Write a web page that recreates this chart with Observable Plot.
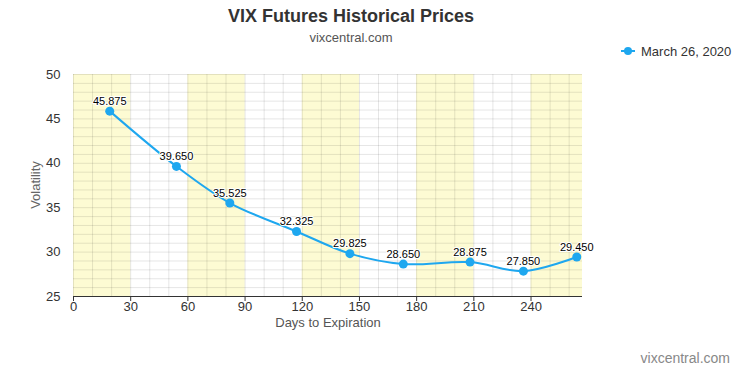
<!DOCTYPE html>
<html>
<head>
<meta charset="utf-8">
<script src="https://cdn.jsdelivr.net/npm/d3@7"></script>
<script src="https://cdn.jsdelivr.net/npm/@observablehq/plot@0.6"></script>
<style>
  body { margin:0; background:#fff; font-family:"Liberation Sans", Arial, Helvetica, sans-serif; }
  #wrap { position:relative; width:740px; height:370px; overflow:hidden; }
  .abs { position:absolute; white-space:nowrap; }
</style>
</head>
<body>
<div id="wrap">
  <div class="abs" id="title" style="left:0;width:702px;top:6px;text-align:center;font-size:18px;font-weight:bold;color:#333;">VIX Futures Historical Prices</div>
  <div class="abs" id="subtitle" style="left:0;width:702px;top:30px;text-align:center;font-size:13px;color:#555;">vixcentral.com</div>
  <div class="abs" id="legend" style="left:620px;top:43px;font-size:13px;color:#333;display:flex;align-items:center;">
    <svg width="16" height="16" style="margin-right:5px"><line x1="1" y1="8" x2="15" y2="8" stroke="#1ea7ef" stroke-width="2"/><circle cx="8" cy="8" r="4" fill="#1ea7ef"/></svg>
    <span id="legendText"></span>
  </div>
  <div class="abs" id="ylabel" style="left:35px;top:185px;font-size:13px;color:#666;transform:translate(-50%,-50%) rotate(-90deg);">Volatility</div>
  <div class="abs" id="xlabel" style="left:328px;top:315px;font-size:13px;color:#555;transform:translateX(-50%);">Days to Expiration</div>
  <div class="abs" id="credit" style="right:10px;top:350px;font-size:14px;color:#888;">vixcentral.com</div>
  <div id="chart"></div>
</div>
<script>
const seriesName = "March 26, 2020";
const days = [19, 54, 82, 117, 145, 173, 208, 236, 264];
const prices = [45.875, 39.650, 35.525, 32.325, 29.825, 28.650, 28.875, 27.850, 29.450];
const bandStarts = [0, 60, 120, 180, 240];
const bandEnds = [30, 90, 150, 210, 267];
const xTicks = [0, 30, 60, 90, 120, 150, 180, 210, 240];
const yTicks = [25, 30, 35, 40, 45, 50];
const xGrid = d3.range(0, 261, 10);
const yGrid = d3.range(25, 51, 1);

document.getElementById("legendText").textContent = seriesName;

const data = days.map((d, i) => ({day: d, price: prices[i]}));
const bands = bandStarts.map((s, i) => ({x1: s, x2: bandEnds[i]}));
const blue = "#1ea7ef";

const chart = Plot.plot({
  width: 740,
  height: 370,
  marginLeft: 73,
  marginRight: 158,
  marginTop: 74,
  marginBottom: 74,
  style: {fontFamily: "'Liberation Sans', Arial, sans-serif", fontSize: "13px", color: "#333", background: "transparent"},
  x: {domain: [0, 267]},
  y: {domain: [25, 50]},
  marks: [
    Plot.rect(bands, {x1: "x1", x2: "x2", y1: 25, y2: 50, fill: "#fdfbd3"}),
    Plot.ruleX(xGrid, {stroke: "#000", strokeOpacity: 0.1}),
    Plot.ruleY(yGrid, {stroke: "#000", strokeOpacity: 0.1}),
    Plot.axisY(yTicks, {tickSize: 0, tickPadding: 13, label: null, fontSize: 13, fill: "#333"}),
    Plot.axisX(xTicks, {tickSize: 5, tickPadding: 0, label: null, fontSize: 13, fill: "#333", stroke: "#333"}),
    Plot.ruleY([25], {stroke: "#333", strokeWidth: 1}),
    Plot.line(data, {x: "day", y: "price", curve: "catmull-rom", stroke: blue, strokeWidth: 2}),
    Plot.dot(data, {x: "day", y: "price", r: 4.5, fill: blue}),
    Plot.text(data, {x: "day", y: "price", text: d => d.price.toFixed(3), dy: -10, fontSize: 11, fill: "#000", stroke: "#fff", strokeWidth: 2})
  ]
});
document.getElementById("chart").appendChild(chart);
</script>
</body>
</html>
